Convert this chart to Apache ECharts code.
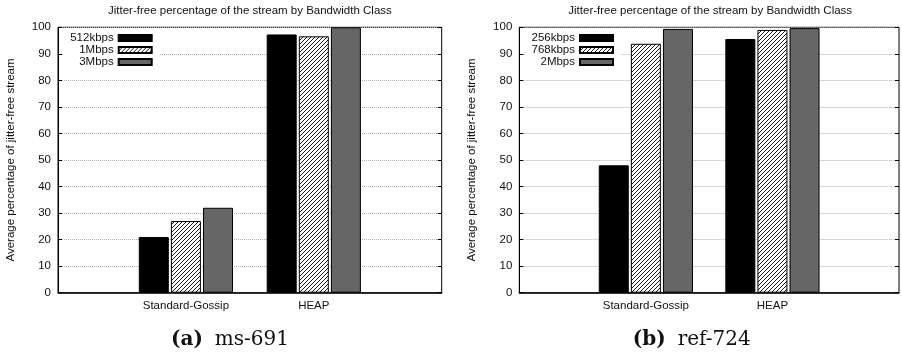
<!DOCTYPE html>
<html><head><meta charset="utf-8">
<script src="https://cdn.jsdelivr.net/npm/echarts@6/dist/echarts.min.js"></script>
<style>html,body{margin:0;padding:0;background:#fff}#c{width:902px;height:357px}</style>
</head><body><div id="c"></div>
<script>
const categories = ['Standard-Gossip', 'HEAP'];
const yTicks = [0, 10, 20, 30, 40, 50, 60, 70, 80, 90, 100];
const chartTitle = 'Jitter-free percentage of the stream by Bandwidth Class';
const yAxisTitle = 'Average percentage of jitter-free stream';

const leftNames = ['512kbps', '1Mbps', '3Mbps'];
const left512kbps = [21, 97.3];
const left1Mbps = [27, 96.6];
const left3Mbps = [32, 100];
const leftCaptionTag = '(a)';
const leftCaptionText = 'ms-691';

const rightNames = ['256kbps', '768kbps', '2Mbps'];
const right256kbps = [48, 95.6];
const right768kbps = [93.8, 99];
const right2Mbps = [99.4, 99.7];
const rightCaptionTag = '(b)';
const rightCaptionText = 'ref-724';

function hatch() {
  const c = document.createElement('canvas');
  c.width = 4; c.height = 4;
  const g = c.getContext('2d');
  g.fillStyle = '#fff'; g.fillRect(0, 0, 4, 4);
  g.strokeStyle = '#000'; g.lineWidth = 0.9;
  g.beginPath();
  g.moveTo(-1, 5); g.lineTo(5, -1);
  g.moveTo(-1, 1); g.lineTo(1, -1);
  g.moveTo(3, 5); g.lineTo(5, 3);
  g.stroke();
  return c;
}
const hatchPattern = { image: hatch(), repeat: 'repeat' };
const fills = ['#000', hatchPattern, '#666'];

const FONT = "'Liberation Sans', Arial, sans-serif";
const FS = 11.5;
const grids = [
  { left: 58, right: 460.3, top: 27.3, bottom: 64.3 },
  { left: 519.3, right: 1, top: 27.3, bottom: 64.3 }
];

const xAxes = [], yAxes = [];
grids.forEach((g, i) => {
  g.show = true; g.borderColor = '#000'; g.borderWidth = 1; g.backgroundColor = 'transparent';
  xAxes.push({
    type: 'value', gridIndex: i, min: -1, max: 2, interval: 1,
    axisLine: { show: true, onZero: false, lineStyle: { color: '#000', width: 1.5 } },
    axisTick: { show: false }, splitLine: { show: false },
    axisLabel: { margin: 7, color: '#111', fontSize: FS, fontFamily: FONT,
      formatter: v => (v >= 0 && v < categories.length && Number.isInteger(v)) ? categories[v] : '' }
  });
  yAxes.push({
    type: 'value', gridIndex: i, min: yTicks[0], max: yTicks[yTicks.length - 1], interval: 10,
    name: yAxisTitle, nameLocation: 'middle', nameGap: 41,
    nameTextStyle: { color: '#111', fontSize: FS, fontFamily: FONT },
    axisLine: { show: true, onZero: false, lineStyle: { color: '#000', width: 1 } },
    axisTick: { show: true, inside: true, length: 4, lineStyle: { color: '#000' } },
    axisLabel: { margin: 7, color: '#111', fontSize: FS, fontFamily: FONT },
    splitLine: { show: true, lineStyle: { color: '#b0b0b0', type: [1, 1], width: 1 } }
  });
  yAxes.push({
    type: 'value', gridIndex: i, position: 'right', min: yTicks[0], max: yTicks[yTicks.length - 1], interval: 10,
    axisLine: { show: false, onZero: false }, axisLabel: { show: false }, splitLine: { show: false },
    axisTick: { show: true, inside: true, length: 4, lineStyle: { color: '#000' } }
  });
});

function mk(name, vals, k, gi) {
  return {
    type: 'bar', name: name, xAxisIndex: gi, yAxisIndex: gi * 2,
    data: vals.map((v, j) => [j, v]),
    barWidth: 30, barGap: '7%',
    itemStyle: { color: fills[k], borderColor: '#000', borderWidth: 1 },
    emphasis: { disabled: true }, animation: false
  };
}
const series = [
  mk(leftNames[0], left512kbps, 0, 0), mk(leftNames[1], left1Mbps, 1, 0), mk(leftNames[2], left3Mbps, 2, 0),
  mk(rightNames[0], right256kbps, 0, 1), mk(rightNames[1], right768kbps, 1, 1), mk(rightNames[2], right2Mbps, 2, 1)
];

function legend(names, right) {
  return {
    data: names, orient: 'vertical', align: 'right', right: right, top: 30,
    itemWidth: 33, itemHeight: 6, itemGap: 0, icon: 'rect',
    padding: [2, 7, 2, 7], backgroundColor: '#fff',
    textStyle: { color: '#111', fontSize: FS, fontFamily: FONT, lineHeight: 11.7 },
    selectedMode: false
  };
}

const serif = "'DejaVu Serif', serif";
function caption(tag, text, x) {
  return { type: 'text', x: x, y: 339.5, style: {
    text: '{a|' + tag + '}{b|' + text + '}', align: 'center', verticalAlign: 'middle',
    rich: { a: { fontFamily: serif, fontWeight: 'bold', fontSize: 20, fill: '#111', padding: [0, 12, 0, 0] },
            b: { fontFamily: serif, fontSize: 20, fill: '#111' } } } };
}
function titleText(x) {
  return { type: 'text', x: x, y: 11, style: { text: chartTitle, align: 'center', verticalAlign: 'middle',
    fontFamily: FONT, fontSize: FS, fill: '#111' } };
}

const chart = echarts.init(document.getElementById('c'), null, { renderer: 'canvas' });
chart.setOption({
  animation: false,
  grid: grids, xAxis: xAxes, yAxis: yAxes, series: series,
  legend: [legend(leftNames, 742.3), legend(rightNames, 281)],
  graphic: [titleText(249.9), titleText(710.2), caption(leftCaptionTag, leftCaptionText, 230), caption(rightCaptionTag, rightCaptionText, 691.7)]
});
</script></body></html>
